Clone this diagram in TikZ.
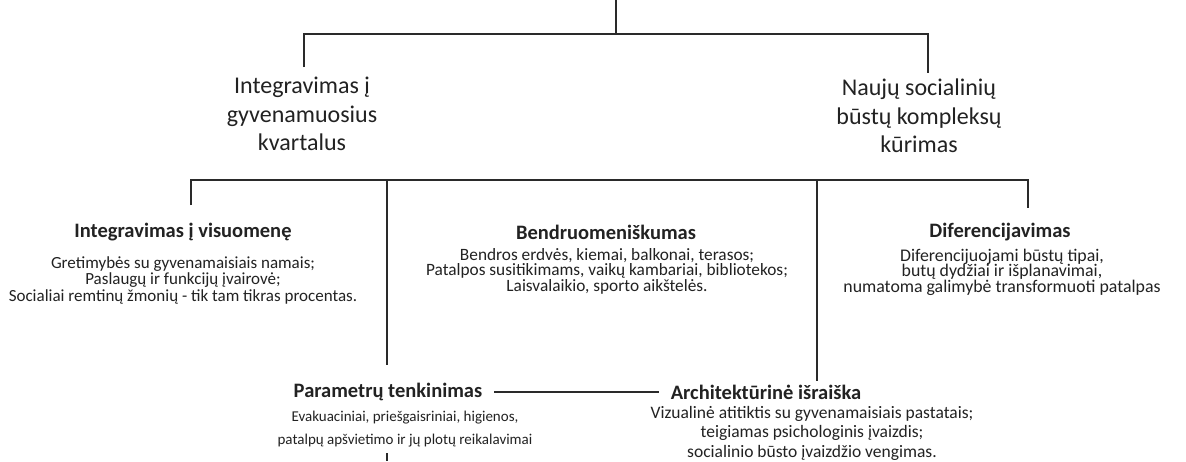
\documentclass[tikz,border=0pt]{standalone}
\usepackage{fontspec}
\setmainfont{Carlito}
\definecolor{ink}{HTML}{222222}
\definecolor{wire}{HTML}{2A2A2A}
\begin{document}
\begin{tikzpicture}[x=1pt,y=-1pt,
  conn/.style={draw=wire,line width=1.7pt},
  levelone/.style={inner sep=0pt,align=center,text=ink,font=\fontsize{24}{28.5}\selectfont},
  headtxt/.style={inner sep=0pt,align=center,text=ink,font=\bfseries\fontsize{20.5}{22}\selectfont},
  bodytxt/.style={inner sep=0pt,align=center,text=ink},
  bodyl/.style={bodytxt,font=\fontsize{17}{16.5}\selectfont},
  bodym/.style={bodytxt,font=\fontsize{17.3}{15.5}\selectfont},
  bodyd/.style={bodytxt,font=\fontsize{17.8}{15.5}\selectfont},
  bodyb/.style={bodytxt,font=\fontsize{15}{23}\selectfont},
  bodyr/.style={bodytxt,font=\fontsize{17.5}{19.5}\selectfont}]
\useasboundingbox[fill=white] (0,0) rectangle (1186,461);

% first level
\node[levelone] (kv) at (302,114) {Integravimas į\\gyvenamuosius\\kvartalus};
\node[levelone] (nb) at (919,116) {Naujų socialinių\\būstų kompleksų\\kūrimas};

% second level headings and descriptions
\node[headtxt] (vis) at (183,232) {Integravimas į visuomenę};
\node[bodyl] (visd) at (183,280) {Gretimybės su gyvenamaisiais namais;\\Paslaugų ir funkcijų įvairovė;\\Socialiai remtinų žmonių - tik tam tikras procentas.};

\node[headtxt] (ben) at (606,232) {Bendruomeniškumas};
\node[bodym] (bend) at (607,271) {Bendros erdvės, kiemai, balkonai, terasos;\\Patalpos susitikimams, vaikų kambariai, bibliotekos;\\Laisvalaikio, sporto aikštelės.};

\node[headtxt] (dif) at (1000,232) {Diferencijavimas};
\node[bodyd] (difd) at (1002,272) {Diferencijuojami būstų tipai,\\butų dydžiai ir išplanavimai,\\numatoma galimybė transformuoti patalpas};

% third level
\node[headtxt] (par) at (388,392) {Parametrų tenkinimas};
\node[bodyb] (pard) at (405,429) {Evakuaciniai, priešgaisriniai, higienos,\\patalpų apšvietimo ir jų plotų reikalavimai};

\node[headtxt] (arc) at (766,392) {Architektūrinė išraiška};
\node[bodyr] (arcd) at (812,433) {Vizualinė atitiktis su gyvenamaisiais pastatais;\\teigiamas psichologinis įvaizdis;\\socialinio būsto įvaizdžio vengimas.};

% junction points
\coordinate (root) at (616,0);
\coordinate (rootj) at (616,34);
\coordinate (kvtop) at (304,67);
\coordinate (nbtop) at (928,73);
\coordinate (vistop) at (191,205);
\coordinate (diftop) at (1028,208);
\coordinate (bar) at (387,180);
\coordinate (bartwo) at (817,180);
\coordinate (partop) at (387,365);
\coordinate (arctop) at (817,381);
\coordinate (parbot) at (387,453);
\coordinate (edge) at (387,461);

% connectors
\draw[conn] (root) -- (rootj);
\draw[conn] (kvtop) |- (rootj) -| (nbtop);
\draw[conn] (vistop) |- (bar) -- (bartwo) -| (diftop);
\draw[conn] (bar) -- (partop);
\draw[conn] (bartwo) -- (arctop);
\draw[conn] ([xshift=-12pt]arc.west |- par.east) -- ([xshift=12pt]par.east);
\draw[conn] (parbot) -- (edge);
\end{tikzpicture}
\end{document}
